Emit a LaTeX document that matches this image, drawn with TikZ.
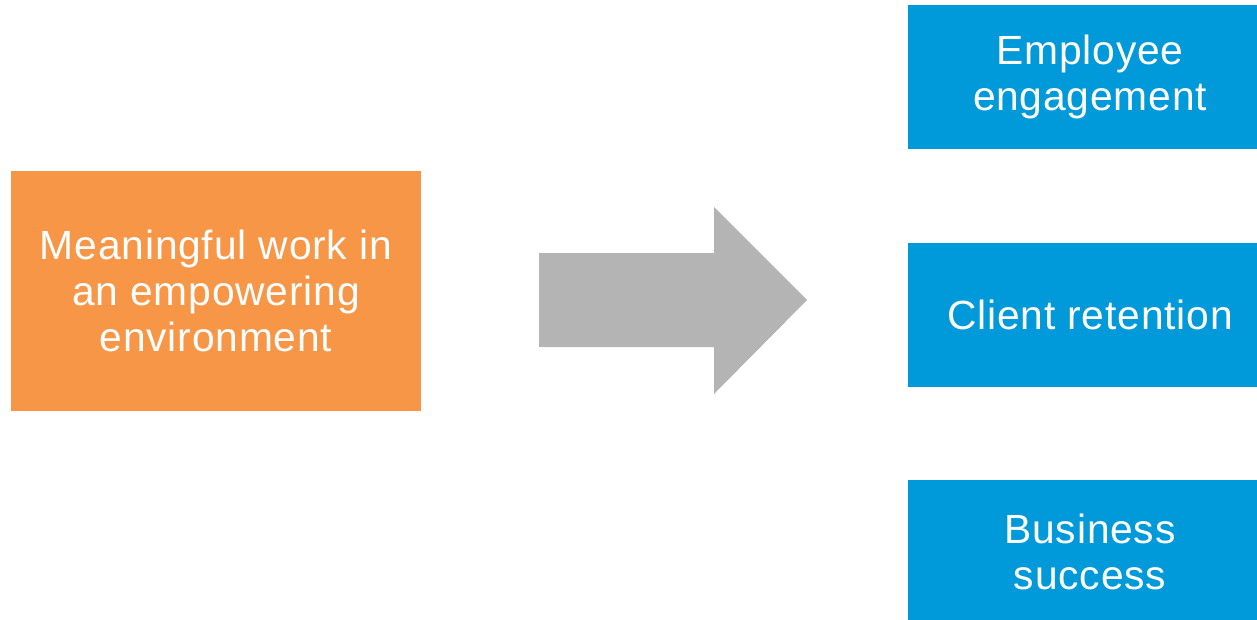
\documentclass[tikz,border=0pt]{standalone}
\usepackage{fontspec}
\setmainfont{Liberation Sans}[LetterSpace=2]
\usepackage{xcolor}
\usepackage{tikz}
\usetikzlibrary{positioning}

\definecolor{boxorange}{RGB}{247,150,70}
\definecolor{boxblue}{RGB}{0,153,218}
\definecolor{arrowgray}{RGB}{180,180,180}

\begin{document}
\begin{tikzpicture}[x=0.02cm, y=-0.02cm, node distance=1.86cm,
    box/.style={fill=#1, text=white, inner sep=0pt, align=center,
      font=\fontsize{23.2}{26.1}\selectfont},
    outcome/.style={box=boxblue, minimum width=7.28cm, minimum height=2.88cm}]
      \useasboundingbox (0,0) rectangle (1257,619);
      \node[box=boxorange, minimum width=8.2cm, minimum height=4.8cm] (work) at (216,291)
        {Meaningful work in\\an empowering\\environment};
      \node[outcome] (engage) at (1090,77) {Employee\\engagement};
      \node[outcome] (retain) [below=of engage] {Client retention};
      \node[outcome] (success) [below=of retain] {Business\\success};
      % block arrow
      \fill[arrowgray] (539,253) -- (714,253) -- (714,207) -- (807,300)
        -- (714,394) -- (714,347) -- (539,347) -- cycle;
    \end{tikzpicture}
\end{document}
